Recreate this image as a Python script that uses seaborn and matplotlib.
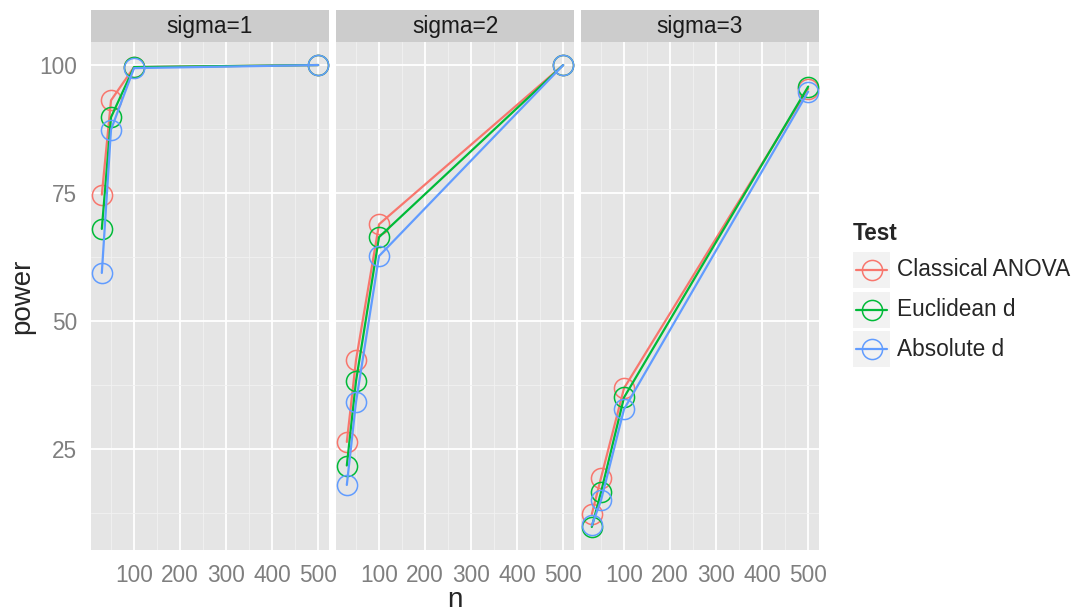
import pandas as pd
import matplotlib
matplotlib.use('Agg')
import matplotlib.pyplot as plt
from matplotlib.patches import Rectangle
from matplotlib.lines import Line2D
import seaborn as sns

# data
n_values = [30, 50, 100, 500]
sigmas = [1, 2, 3]
tests = ['Classical ANOVA', 'Euclidean d', 'Absolute d']
colors = ['#F8766D', '#00BA38', '#619CFF']

anova_s1 = [74.7, 93.1, 99.6, 100.0]
euclid_s1 = [68.0, 89.8, 99.6, 100.0]
absolute_s1 = [59.4, 87.4, 99.4, 100.0]

anova_s2 = [26.4, 42.4, 68.9, 100.0]
euclid_s2 = [21.8, 38.3, 66.4, 100.0]
absolute_s2 = [18.0, 34.2, 62.7, 100.0]

anova_s3 = [12.3, 19.4, 36.9, 95.4]
euclid_s3 = [9.8, 16.6, 35.1, 95.8]
absolute_s3 = [10.1, 15.0, 32.8, 94.8]

x_ticks = [100, 200, 300, 400, 500]
y_ticks = [25, 50, 75, 100]

series = {1: (anova_s1, euclid_s1, absolute_s1),
          2: (anova_s2, euclid_s2, absolute_s2),
          3: (anova_s3, euclid_s3, absolute_s3)}

rows = []
for s in sigmas:
    for test, vals in zip(tests, series[s]):
        for n, p in zip(n_values, vals):
            rows.append({'sigma': s, 'Test': test, 'n': n, 'power': p})
df = pd.DataFrame(rows)

sns.set_style('white')
plt.rcParams['font.family'] = ['Liberation Sans', 'DejaVu Sans']

W, H = 1073, 614
fig = plt.figure(figsize=(W / 100, H / 100), dpi=100)


def fbox(x0, y0, x1, y1):
    # pixel box (top-left origin) -> figure fraction
    return [x0 / W, (H - y1) / H, (x1 - x0) / W, (y1 - y0) / H]


small = 16.3
big = 20

panel_left = [91, 336, 581]
panel_w = 238
panel_top, panel_bottom = 42, 550
strip_top = 10

for i, s in enumerate(sigmas):
    left = panel_left[i]
    ax = fig.add_axes(fbox(left, panel_top, left + panel_w, panel_bottom))
    ax.set_facecolor('#E5E5E5')
    sub = df[df.sigma == s]
    sns.lineplot(data=sub, x='n', y='power', hue='Test', hue_order=tests,
                 palette=colors, marker='o', markersize=14.5,
                 markerfacecolor='none', markeredgewidth=1.1, linewidth=1.6,
                 legend=False, ax=ax)
    for line in ax.lines:
        line.set_markeredgecolor(line.get_color())
    ax.set_xlim(6.5, 523.5)
    ax.set_ylim(5.3, 104.5)
    ax.set_xticks(x_ticks)
    ax.set_xticks(range(50, 500, 100), minor=True)
    ax.set_yticks(y_ticks)
    ax.set_yticks([12.5, 37.5, 62.5, 87.5], minor=True)
    ax.grid(which='major', color='white', linewidth=1.3)
    ax.grid(which='minor', color='#F2F2F2', linewidth=0.6)
    ax.set_axisbelow(True)
    for sp in ax.spines.values():
        sp.set_visible(False)
    ax.tick_params(which='minor', length=0)
    ax.tick_params(which='major', colors='#7F7F7F', labelsize=small,
                   length=6, width=1.1, pad=4)
    ax.set_xlabel('')
    ax.set_ylabel('')
    if i > 0:
        ax.tick_params(axis='y', left=False, labelleft=False)

    # facet strip
    sax = fig.add_axes(fbox(left, strip_top, left + panel_w, panel_top))
    sax.set_facecolor('#CCCCCC')
    sax.set_xticks([])
    sax.set_yticks([])
    for sp in sax.spines.values():
        sp.set_visible(False)
    sax.text(0.5, 0.5, f'sigma={s}', ha='center', va='center',
             fontsize=small, color='#1A1A1A', transform=sax.transAxes)

fig.text(455 / W, (H - 600) / H, 'n', ha='center', va='center', fontsize=big)
fig.text(22 / W, (H - 296) / H, 'power', ha='center', va='center',
         rotation=90, fontsize=big)

# legend
fig.text(853 / W, (H - 240) / H, 'Test', fontsize=small, fontweight='bold',
         ha='left', va='baseline')
key_centers = [270, 309.5, 349]
for test, col, yc in zip(tests, colors, key_centers):
    fig.add_artist(Rectangle((853 / W, (H - yc - 18) / H), 37 / W, 36 / H,
                             transform=fig.transFigure, facecolor='#F2F2F2',
                             edgecolor='none'))
    fig.add_artist(Line2D([856 / W, 887 / W], [(H - yc) / H] * 2,
                          transform=fig.transFigure, color=col, linewidth=1.6))
    fig.add_artist(Line2D([871.5 / W], [(H - yc) / H], transform=fig.transFigure,
                          marker='o', markersize=14.5, markerfacecolor='none',
                          markeredgecolor=col, markeredgewidth=1.1,
                          linestyle='none'))
    fig.text(897 / W, (H - yc) / H, test, fontsize=small, ha='left', va='center')

fig.savefig('out.png', dpi=100)
